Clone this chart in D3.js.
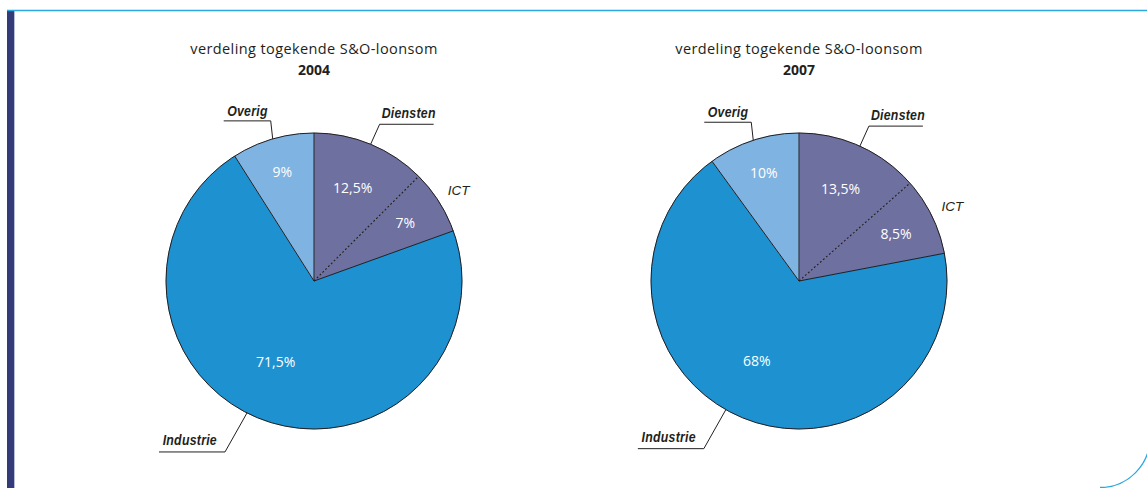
<!DOCTYPE html>
<html>
<head>
<meta charset="utf-8">
<script src="https://cdn.jsdelivr.net/npm/d3@7"></script>
<style>
  body { margin: 0; background: #fff; }
  svg { display: block; }
</style>
</head>
<body>
<div id="chart"></div>
<script>
// data
const categories = ['Diensten', 'ICT', 'Industrie', 'Overig'];
const years = ['2004', '2007'];
const values2004 = [12.5, 7, 71.5, 9];
const values2007 = [13.5, 8.5, 68, 10];
const chartTitle = 'verdeling togekende S&O-loonsom';

const seriesByYear = { '2004': values2004, '2007': values2007 };

const width = 1147;
const height = 488;
const radius = 148;
const centerY = 281;

const colourScale = d3.scaleOrdinal()
    .domain(categories)
    .range(['#6e70a0', '#6e70a0', '#1e91d1', '#7fb3e1']);

// pie centres
const xScale = d3.scalePoint()
    .domain(years)
    .range([314, 799]);

// label styling per category (radius of value label, angle nudges)
const valueLabelRadius = { Diensten: 101, ICT: 108, Industrie: 90, Overig: 114 };
const valueNudge = { Diensten: 0, ICT: 0, Industrie: 0.11, Overig: 0 };
const leaderNudge = { Diensten: 0, ICT: 0, Industrie: 0.14, Overig: 0 };
const leaderStyle = {
    Overig:    { dx: -2, dy: -18, len: 47, side: 'left',  tx: -3, ty: -5 },
    Diensten:  { dx: 9,  dy: -20, len: 54, side: 'right', tx: 2,  ty: -6 },
    Industrie: { dx: -22, dy: 39, len: 66, side: 'left',  tx: -8, ty: -7 }
};

const fmt = (v) => String(v).replace('.', ',') + '%';

const svg = d3.select('#chart')
    .append('svg')
        .attr('width', width)
        .attr('height', height);

// frame
svg.append('rect')
    .attr('x', 7).attr('y', 10)
    .attr('width', 7).attr('height', height - 10)
    .attr('fill', '#333b78');
svg.append('line')
    .attr('x1', 14.5).attr('x2', 14.5)
    .attr('y1', 10).attr('y2', height)
    .attr('stroke', '#b9bdd8').attr('stroke-width', 1);
svg.append('line')
    .attr('x1', 7).attr('x2', width)
    .attr('y1', 10.5).attr('y2', 10.5)
    .attr('stroke', '#2aa7df').attr('stroke-width', 1.3);
svg.append('path')
    .attr('d', 'M1100,487.5 A50,50 0 0 0 1150,437.5')
    .attr('fill', 'none')
    .attr('stroke', '#2aa7df').attr('stroke-width', 1.3);

const pie = d3.pie().sort(null).value((d) => d.value);
const arc = d3.arc().innerRadius(0).outerRadius(radius);

const pointAt = (a, r) => [Math.sin(a) * r, -Math.cos(a) * r];

years.forEach((year) => {
    const data = categories.map((c, i) => ({ category: c, value: seriesByYear[year][i] }));
    const arcs = pie(data);

    const g = svg.append('g')
        .attr('transform', `translate(${xScale(year)}, ${centerY})`);

    // title
    g.append('text')
        .attr('x', 0).attr('y', 54 - centerY)
        .attr('text-anchor', 'middle')
        .style('font-family', '"Open Sans", sans-serif')
        .style('font-size', '14.5px')
        .style('letter-spacing', '0.4px')
        .attr('fill', '#231f20')
        .text(chartTitle);
    g.append('text')
        .attr('x', 0).attr('y', 75 - centerY)
        .attr('text-anchor', 'middle')
        .style('font-family', '"Open Sans", sans-serif')
        .style('font-size', '14px')
        .style('font-weight', 'bold')
        .attr('fill', '#231f20')
        .text(year);

    // slices
    g.selectAll('path.slice')
        .data(arcs)
        .enter()
            .append('path')
                .attr('class', 'slice')
                .attr('d', arc)
                .attr('fill', (d) => colourScale(d.data.category))
                .attr('stroke', (d) => colourScale(d.data.category))
                .attr('stroke-width', 0.5);

    // radial borders (dotted between Diensten and ICT)
    g.selectAll('line.border')
        .data(arcs)
        .enter()
            .append('line')
                .attr('class', 'border')
                .attr('x1', 0).attr('y1', 0)
                .attr('x2', (d) => pointAt(d.startAngle, radius)[0])
                .attr('y2', (d) => pointAt(d.startAngle, radius)[1])
                .attr('stroke', '#231f20')
                .attr('stroke-width', (d) => d.data.category === 'ICT' ? 1.1 : 1)
                .attr('stroke-dasharray', (d) => d.data.category === 'ICT' ? '2,2' : null);

    // outline
    g.append('circle')
        .attr('r', radius)
        .attr('fill', 'none')
        .attr('stroke', '#231f20')
        .attr('stroke-width', 1);

    // value labels
    g.selectAll('text.value')
        .data(arcs)
        .enter()
            .append('text')
                .attr('class', 'value')
                .attr('transform', (d) => {
                    const a = (d.startAngle + d.endAngle) / 2 + valueNudge[d.data.category];
                    const p = pointAt(a, valueLabelRadius[d.data.category]);
                    return `translate(${p[0]}, ${p[1]})`;
                })
                .attr('dy', '0.36em')
                .attr('text-anchor', 'middle')
                .style('font-family', '"Open Sans", sans-serif')
                .style('font-size', '14px')
                .attr('fill', '#ffffff')
                .text((d) => fmt(d.data.value));

    // leader labels
    arcs.filter((d) => leaderStyle[d.data.category]).forEach((d) => {
        const s = leaderStyle[d.data.category];
        const a = (d.startAngle + d.endAngle) / 2 + leaderNudge[d.data.category];
        const p = pointAt(a, radius);
        const ex = p[0] + s.dx;
        const ey = p[1] + s.dy;
        const ux = s.side === 'left' ? ex - s.len : ex + s.len;
        g.append('path')
            .attr('d', `M${p[0]},${p[1]} L${ex},${ey} L${ux},${ey}`)
            .attr('fill', 'none')
            .attr('stroke', '#231f20')
            .attr('stroke-width', 1);
        // condensed look: squeeze the text horizontally
        g.append('text')
            .attr('transform', `translate(${ex + s.tx}, ${ey + s.ty}) scale(0.88, 1)`)
            .attr('text-anchor', s.side === 'left' ? 'end' : 'start')
            .style('font-family', '"Liberation Sans", sans-serif')
            .style('font-size', '14px')
            .style('font-weight', 'bold')
            .style('font-style', 'italic')
            .style('letter-spacing', '0.3px')
            .attr('fill', '#231f20')
            .text(d.data.category);
    });

    // ICT label (no leader)
    arcs.filter((d) => d.data.category === 'ICT').forEach((d) => {
        const a = (d.startAngle + d.endAngle) / 2;
        const p = pointAt(a, 162);
        g.append('text')
            .attr('x', p[0] - 3)
            .attr('y', p[1] + 1)
            .attr('text-anchor', 'start')
            .style('font-family', '"Liberation Sans", sans-serif')
            .style('font-size', '13.5px')
            .style('font-style', 'italic')
            .attr('fill', '#231f20')
            .text(d.data.category);
    });
});
</script>
</body>
</html>
